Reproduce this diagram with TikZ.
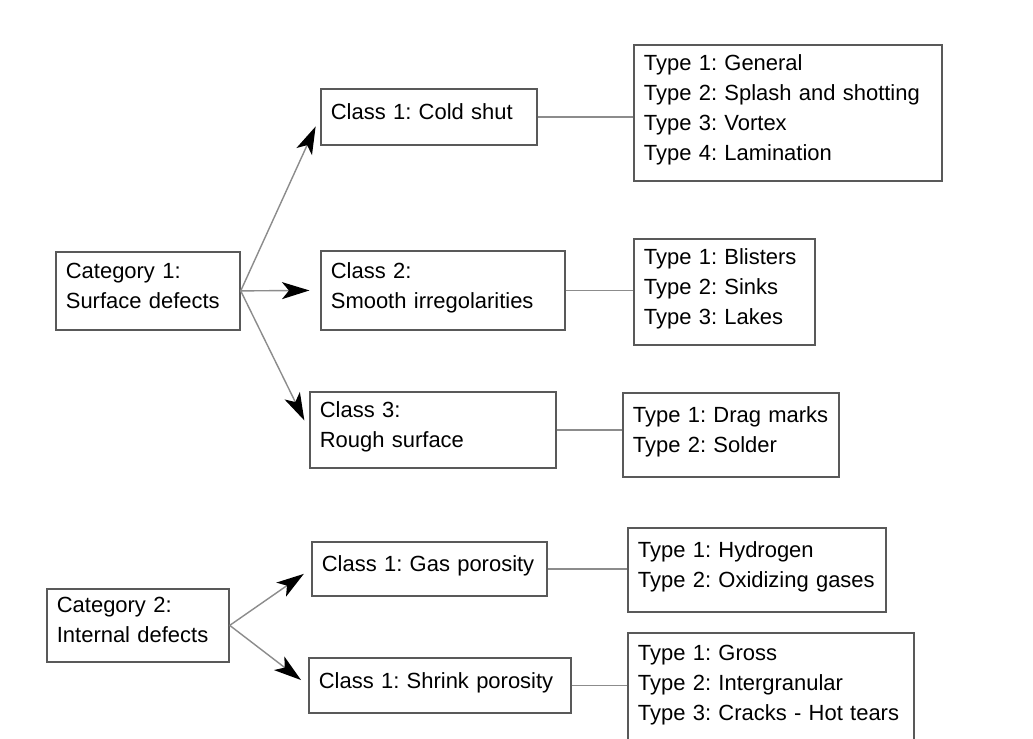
\documentclass[tikz,border=0pt]{standalone}
\usepackage{fontspec}
\setmainfont{Liberation Sans}
\usetikzlibrary{positioning, shapes, arrows.meta, calc}
\frenchspacing

\begin{document}
\begin{tikzpicture}[x=0.02cm, y=-0.02cm,
    box/.style={draw=black!65, line width=1pt, anchor=north west, align=left,
                inner xsep=0.2cm, inner ysep=0pt,
                font=\fontsize{12.5}{17}\selectfont,
                execute at end node={\\[-11pt]\mbox{}}},
    arr/.style={draw=black!45, line width=0.8pt,
                -{Stealth[length=0.55cm, width=0.34cm, inset=0.14cm, black]}},
    lnk/.style={draw=black!45, line width=0.8pt}]
                  \clip (0,0) rectangle (1033,738);
                  \fill[white] (0,0) rectangle (1033,738);

                  % Nodes
                  \node[box, text width=3.28cm, minimum height=1.56cm] (cat1) at (55,251) {Category 1:\\Surface defects};
                  \node[box, text width=3.24cm, minimum height=1.46cm] (cat2) at (46,588) {Category 2:\\Internal defects};

                  \node[box, text width=3.92cm, minimum height=1.12cm] (cls11) at (320,88) {Class 1: Cold shut};
                  \node[box, text width=4.48cm, minimum height=1.58cm] (cls12) at (320,250) {Class 2:\\Smooth irregolarities};
                  \node[box, text width=4.52cm, minimum height=1.52cm] (cls13) at (309,391) {Class 3:\\Rough surface};
                  \node[box, text width=4.30cm, minimum height=1.08cm] (cls21) at (311,541) {Class 1: Gas porosity};
                  \node[box, text width=4.84cm, minimum height=1.10cm] (cls22) at (308,657) {Class 1: Shrink porosity};

                  \node[box, text width=5.76cm, minimum height=2.72cm] (typ11) at (633,44) {Type 1: General\\Type 2: Splash and shotting\\Type 3: Vortex\\Type 4: Lamination};
                  \node[box, text width=3.22cm, minimum height=2.12cm] (typ12) at (633,238) {Type 1: Blisters\\Type 2: Sinks\\Type 3: Lakes};
                  \node[box, text width=3.92cm, minimum height=1.68cm] (typ13) at (622,392) {Type 1: Drag marks\\Type 2: Solder};
                  \node[box, text width=4.76cm, minimum height=1.68cm] (typ21) at (627,527) {Type 1: Hydrogen\\Type 2: Oxidizing gases};
                  \node[box, text width=5.32cm, minimum height=2.2cm] (typ22) at (627,632) {Type 1: Gross\\Type 2: Intergranular\\Type 3: Cracks - Hot tears};

                  % Arrows
                  \foreach \c in {1,2,3}
                  \draw[arr, shorten >=6] (cat1.east) -- (cls1\c.west);
                  \foreach \c in {1,2}
                  \draw[arr, shorten >=5] (cat2.east) -- (cls2\c.west);

                  % Links
                  \foreach \k in {11,12,13,21,22}
                  \draw[lnk] (cls\k.east) -- (cls\k.east -| typ\k.west);
              \end{tikzpicture}
\end{document}
